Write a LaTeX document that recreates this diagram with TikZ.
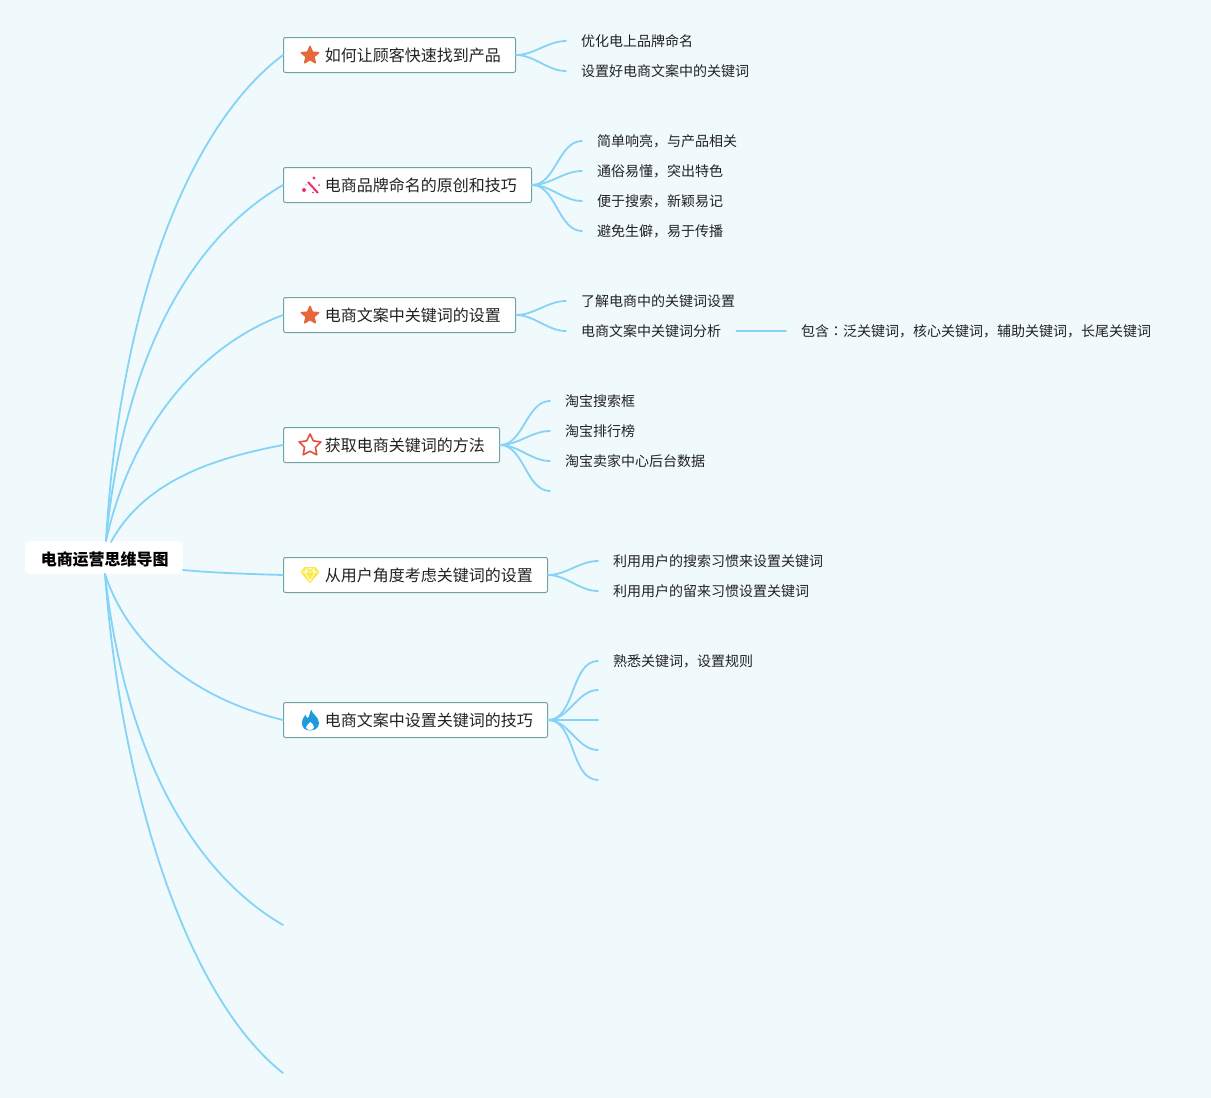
\documentclass[tikz,border=0pt]{standalone}
\usepackage{fontspec}
\setmainfont{Noto Sans CJK SC}
\newfontfamily\tcfont{Noto Sans CJK TC}
\usetikzlibrary{shapes.geometric}
\definecolor{bgc}{HTML}{F0F9FC}
\definecolor{linec}{HTML}{85D3F6}
\definecolor{boxc}{HTML}{6FA5A0}
\definecolor{txtc}{HTML}{222222}
\definecolor{starc}{HTML}{E4683A}
\definecolor{starr}{HTML}{E4503F}
\definecolor{wandc}{HTML}{EE2F72}
\definecolor{gemc}{HTML}{FBE94B}
\definecolor{flamec}{HTML}{1F9BDD}
\tikzset{
  conn/.style={draw=linec,line width=1.8pt,line cap=round},
  fan/.style={conn,out=0,in=180,looseness=0.9},
  rootbox/.style={fill=white,rounded corners=6pt,minimum width=158pt,minimum height=33pt,inner sep=0pt,font=\fontsize{16}{16}\selectfont\bfseries,text=black,text height=17pt,text depth=2pt},
  topic/.style={draw=boxc,fill=white,rounded corners=2pt,line width=1pt,minimum height=35pt,anchor=west,inner xsep=14.7pt,inner ysep=0pt,font=\fontsize{16}{16}\selectfont,text=txtc,text height=14pt,text depth=2pt},
  leaf/.style={anchor=west,inner xsep=15pt,inner ysep=0pt,font=\fontsize{14}{14}\selectfont,text=txtc,text height=13.5pt,text depth=2pt},
  starsolid/.style={star,star points=5,star point ratio=2.2,fill=starc,draw=starc,line width=1.6pt,line join=round,minimum size=18pt,inner sep=0pt},
  starline/.style={star,star points=5,star point ratio=2.0,draw=starr,fill=white,line width=1.6pt,line join=round,minimum size=23pt,inner sep=0pt},
}
\newcommand{\topictext}[1]{\hspace*{26.6pt}#1}
\begin{document}
\begin{tikzpicture}[x=1pt,y=-1pt]
\path[fill=bgc,use as bounding box] (0,0) rectangle (1211,1098);

\node[rootbox] (root) at (104,557.5) {\hspace*{1.5pt}电商运营思维导图};
\coordinate (rootN) at (106,541);
\coordinate (rootS) at (105,574);
\coordinate (rootA) at (111,542);
\coordinate (rootE) at (183,570);
\coordinate (end7) at (283,925);
\coordinate (end8) at (283,1073);

\node[topic] (t1) at (283,55) {\topictext{如何让顾客快速找到产品}};
\node[topic] (t2) at (283,185) {\topictext{电商品牌命名的原创和技巧}};
\node[topic] (t3) at (283,315) {\topictext{电商文案中关键词的设置}};
\node[topic] (t4) at (283,445) {\topictext{获取电商关键词的方法}};
\node[topic] (t5) at (283,575) {\topictext{从用户角度考虑关键词的设置}};
\node[topic] (t6) at (283,720) {\topictext{电商文案中设置关键词的技巧}};

\node[leaf] (a1) at (566,41) {优化电上品牌命名};
\node[leaf] (a2) at (566,71) {设置好电商文案中的关键词};
\node[leaf] (b1) at (582,141) {简单响亮，与产品相关};
\node[leaf] (b2) at (582,171) {通俗易懂，突出特色};
\node[leaf] (b3) at (582,201) {便于搜索，新颖易记};
\node[leaf] (b4) at (582,231) {避免生僻，易于传播};
\node[leaf] (c1) at (566,301) {了解电商中的关键词设置};
\node[leaf] (c2) at (566,331) {电商文案中关键词分析};
\node[leaf] (c3) at (786,331) {包含{\tcfont ：}泛关键词，核心关键词，辅助关键词，长尾关键词};
\node[leaf] (d1) at (550,401) {淘宝搜索框};
\node[leaf] (d2) at (550,431) {淘宝排行榜};
\node[leaf] (d3) at (550,461) {淘宝卖家中心后台数据};
\coordinate (d4) at (550,491);
\node[leaf] (e1) at (598,561) {利用用户的搜索习惯来设置关键词};
\node[leaf] (e2) at (598,591) {利用用户的留来习惯设置关键词};
\node[leaf] (f1) at (598,661) {熟悉关键词，设置规则};
\coordinate (f2) at (598,690);
\coordinate (f3) at (598,720);
\coordinate (f4) at (598,750);
\coordinate (f5) at (598,780);

\draw[conn] (rootN) .. controls (120,300) and (190,125) .. (t1.west);
\draw[conn] (rootN) .. controls (122,375) and (180,245) .. (t2.west);
\draw[conn] (rootN) .. controls (128,440) and (190,350) .. (t3.west);
\draw[conn] (rootA) .. controls (145,480) and (215,458) .. (t4.west);
\draw[conn] (rootE) .. controls (215,573) and (250,574) .. (t5.west);
\draw[conn] (rootS) .. controls (130,650) and (200,700) .. (t6.west);
\draw[conn] (rootS) .. controls (122,730) and (180,865) .. (end7);
\draw[conn] (rootS) .. controls (122,800) and (190,1000) .. (end8);

\foreach \s/\e in {t1/a1,t1/a2,t2/b1,t2/b2,t2/b3,t2/b4,t3/c1,t3/c2,t4/d1,t4/d2,t4/d3,t5/e1,t5/e2,t6/f1}
  \draw[fan] (\s.east) to (\e.west);
\draw[fan] (t4.east) to (d4);
\foreach \e in {f2,f3,f4,f5}
  \draw[fan] (t6.east) to (\e);
\draw[conn] (c2.east) -- (c3.west);

\node[starsolid] (i1) at (310,55.5) {};
\node[starsolid] (i3) at (310,315.5) {};
\node[starline] (i4) at (310,445.5) {};
% wand
\draw[line width=2pt,color=wandc] (308,182) -- (318,193);
\foreach \x/\y/\r in {314/178/1.7,319/185/1,304/190/2,313/192.5/.8,306/185/.7}
  \fill[wandc] (\x,\y) circle (\r);
% gem
\fill[gemc] (304.5,567) -- (315.5,567) -- (319.5,572) -- (310,583.5) -- (300.5,572) -- cycle;
\draw[white,line width=.6pt] (302,572) -- (318,572) (306.5,568) -- (305,572) -- (310,581) -- (315,572) -- (313.5,568) (310,568) -- (305,572) (310,568) -- (315,572);
% flame
\fill[flamec] (311,709.5) .. controls (312,714) and (319,717) .. (319,723) .. controls (319,728) and (315,730.5) .. (310,730.5) .. controls (305,730.5) and (302,727.5) .. (302,723) .. controls (302,719) and (304,717) .. (305.5,714.5) .. controls (306,717) and (307,718) .. (308,718) .. controls (309.5,716) and (310,712) .. (311,709.5) -- cycle;
\fill[white] (310.5,722) .. controls (312,724) and (314,725) .. (314,727) .. controls (314,729) and (312,730) .. (310,730) .. controls (308,730) and (306,729) .. (306,727) .. controls (306,725) and (309.5,724) .. (310.5,722) -- cycle;
\end{tikzpicture}
\end{document}
